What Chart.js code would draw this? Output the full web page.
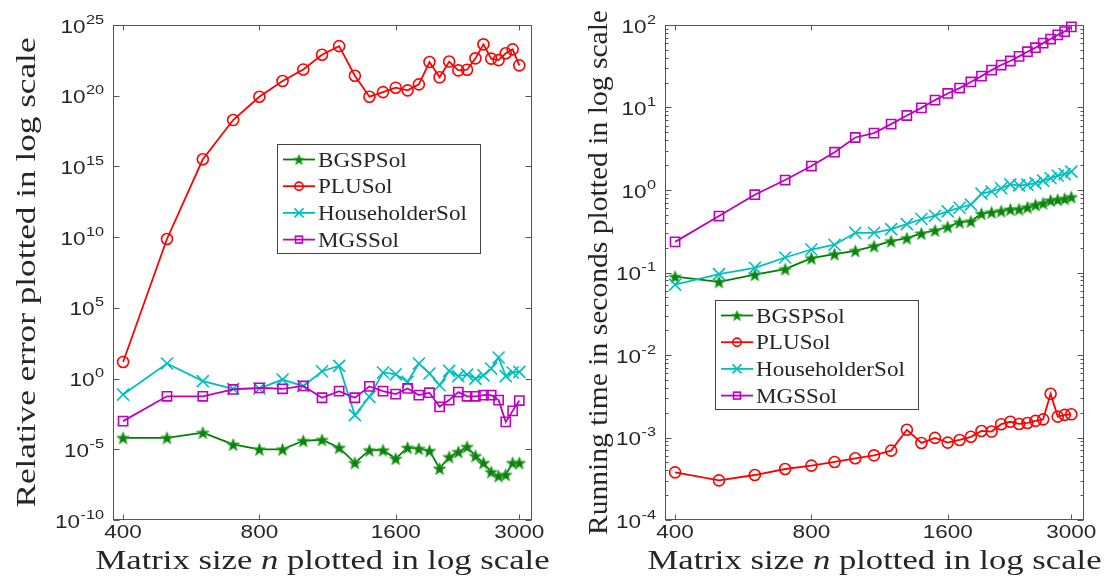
<!DOCTYPE html>
<html>
<head>
<meta charset="utf-8">
<script src="https://cdn.jsdelivr.net/npm/chart.js@4.4.0/dist/chart.umd.min.js"></script>
<style>
  html, body { margin: 0; padding: 0; background: #fff; }
  #wrap { position: relative; width: 1107px; height: 582px; }
  #wrap canvas { position: absolute; top: 0; }
  #errCanvas { left: 0; }
  #timeCanvas { left: 553px; }
</style>
</head>
<body>
<div id="wrap">
  <canvas id="errCanvas" width="553" height="582"></canvas>
  <canvas id="timeCanvas" width="554" height="582"></canvas>
</div>
<script>
// matrix sizes n
const sizes = [400, 500, 600, 700, 800, 900, 1000, 1100, 1200, 1300, 1400, 1500, 1600, 1700,
               1800, 1900, 2000, 2100, 2200, 2300, 2400, 2500, 2600, 2700, 2800, 2900, 3000];
const xTickLabels = [400, 800, 1600, 3000];
const seriesNames = ['BGSPSol', 'PLUSol', 'HouseholderSol', 'MGSSol'];

// relative errors (left panel)
const errBGSP = [6.5e-5, 6.5e-5, 1.5e-4, 2.2e-5, 1.0e-5, 1.0e-5, 4.0e-5, 4.7e-5, 1.3e-5, 1.1e-6,
                 8.7e-6, 8.7e-6, 2.2e-6, 1.3e-5, 1.1e-5, 7.8e-6, 4.4e-7, 2.9e-6, 6.6e-6, 1.5e-5,
                 3.4e-6, 1.1e-6, 2.5e-7, 1.3e-7, 1.6e-7, 1.1e-6, 1.1e-6];
const errPLU = [15, 7.4e9, 3.2e15, 1.9e18, 8.5e19, 1.1e21, 7.2e21, 7.9e22, 3.2e23, 2.6e21,
                8.5e19, 1.8e20, 3.7e20, 2.4e20, 6.3e20, 2.4e22, 2.0e21, 2.6e22, 6.2e21, 6.9e21,
                4.4e22, 4.3e23, 4.2e22, 3.3e22, 1.0e23, 1.9e23, 1.4e22];
const errHouse = [0.074, 11.7, 0.66, 0.19, 0.20, 0.85, 0.29, 3.3, 7.9, 2.6e-3,
                  0.051, 2.7, 2.0, 0.59, 11.7, 2.3, 0.34, 3.5, 1.5, 1.9,
                  1.0, 1.7, 5.1, 31, 1.5, 2.7, 3.0];
const errMGS = [9.8e-4, 0.056, 0.056, 0.17, 0.22, 0.19, 0.30, 0.044, 0.13, 0.044,
                0.28, 0.13, 0.079, 0.20, 0.068, 0.10, 0.010, 0.030, 0.11, 0.056,
                0.056, 0.068, 0.068, 0.030, 8.7e-4, 5.2e-3, 0.028];
const errExpTicks = [-10, -5, 0, 5, 10, 15, 20, 25];

// running times in seconds (right panel)
const timeBGSP = [0.089, 0.077, 0.094, 0.110, 0.149, 0.167, 0.183, 0.209, 0.240, 0.261,
                  0.298, 0.324, 0.358, 0.407, 0.417, 0.516, 0.537, 0.556, 0.582, 0.585,
                  0.617, 0.661, 0.692, 0.748, 0.764, 0.782, 0.822];
const timePLU = [3.78e-4, 3.02e-4, 3.51e-4, 4.15e-4, 4.56e-4, 5.05e-4, 5.60e-4, 6.08e-4, 6.93e-4, 1.24e-3,
                 8.59e-4, 9.89e-4, 8.67e-4, 9.33e-4, 1.02e-3, 1.20e-3, 1.18e-3, 1.45e-3, 1.55e-3, 1.46e-3,
                 1.50e-3, 1.59e-3, 1.66e-3, 3.39e-3, 1.79e-3, 1.88e-3, 1.91e-3];
const timeHouse = [0.0714, 0.0955, 0.114, 0.152, 0.190, 0.217, 0.303, 0.303, 0.336, 0.386,
                   0.445, 0.488, 0.550, 0.610, 0.664, 0.902, 0.959, 1.05, 1.17, 1.14,
                   1.16, 1.21, 1.30, 1.39, 1.49, 1.56, 1.67];
const timeMGS = [0.235, 0.483, 0.877, 1.32, 1.95, 2.87, 4.33, 4.89, 6.28, 8.0,
                 9.9, 12.3, 14.8, 17.2, 20.4, 24.0, 28.4, 32.7, 36.6, 41.7,
                 47.5, 53.1, 60.3, 67.6, 75.9, 83.2, 94.8];
const timeExpTicks = [-4, -3, -2, -1, 0, 1, 2];

const GREEN = '#008000', RED = '#ff0000', CYAN = '#00bfbf', MAGENTA = '#bf00bf';
const INK = '#262626';
const TICK_FONT = '18px "Liberation Sans"', SUP_FONT = '13px "Liberation Sans"';
const TICK_SX = 1.25;
const TITLE_FONT = '28px "Liberation Serif"', TITLE_ITALIC = 'italic 28px "Liberation Serif"';
const LEGEND_FONT = '21px "Liberation Serif"', LEGEND_SX = 1.1;

// filled pentagram used as the marker of BGSPSol
function pentagram(r) {
  const c = document.createElement('canvas');
  const s = Math.ceil(2 * r + 4);
  c.width = c.height = s;
  const g = c.getContext('2d');
  g.translate(s / 2, s / 2 + r * 0.1);
  g.beginPath();
  for (let i = 0; i < 10; i++) {
    const rad = i % 2 ? r * 0.42 : r;
    const ang = -Math.PI / 2 + i * Math.PI / 5;
    g.lineTo(rad * Math.cos(ang), rad * Math.sin(ang));
  }
  g.closePath();
  g.fillStyle = '#0b820b';
  g.fill();
  g.strokeStyle = '#3aa53a';
  g.lineWidth = 1;
  g.stroke();
  return c;
}
const starBig = pentagram(6.5), starSmall = pentagram(5.5);

function series(label, values, color, style, radius, order) {
  return {
    label,
    data: sizes.map((n, i) => ({ x: n, y: values[i] })),
    borderColor: color,
    backgroundColor: 'rgba(0,0,0,0)',
    borderWidth: 1.8,
    pointStyle: style,
    pointRadius: radius,
    pointHoverRadius: radius,
    pointBorderColor: color,
    pointBackgroundColor: 'rgba(0,0,0,0)',
    pointBorderWidth: 1.6,
    tension: 0,
    clip: false,
    order
  };
}

function txt(ctx, s, x, y, font, align, sx) {
  ctx.save();
  ctx.font = font;
  ctx.textAlign = 'left';
  ctx.textBaseline = 'alphabetic';
  const w = ctx.measureText(s).width * sx;
  const x0 = align === 'center' ? x - w / 2 : align === 'right' ? x - w : x;
  ctx.translate(x0, y);
  ctx.scale(sx, 1);
  ctx.fillText(s, 0, 0);
  ctx.restore();
  return w;
}

function marker(ctx, style, color, x, y, r) {
  ctx.save();
  ctx.strokeStyle = color;
  ctx.lineWidth = 1.6;
  if (style instanceof HTMLCanvasElement) {
    ctx.drawImage(style, x - style.width / 2, y - style.height / 2);
  } else if (style === 'circle') {
    ctx.beginPath(); ctx.arc(x, y, r, 0, 2 * Math.PI); ctx.stroke();
  } else if (style === 'rect') {
    const h = r * Math.SQRT1_2;
    ctx.strokeRect(x - h, y - h, 2 * h, 2 * h);
  } else if (style === 'crossRot') {
    const h = r * Math.SQRT1_2;
    ctx.beginPath();
    ctx.moveTo(x - h, y - h); ctx.lineTo(x + h, y + h);
    ctx.moveTo(x + h, y - h); ctx.lineTo(x - h, y + h);
    ctx.stroke();
  }
  ctx.restore();
}

// axes box, inward ticks, labels, titles and legend (MATLAB look)
const frame = {
  id: 'frame',
  afterDatasetsDraw(chart, args, o) {
    const { ctx, chartArea: a, scales: { x, y } } = chart;
    const L = Math.round(a.left) + 0.5, R = Math.round(a.right) - 0.5;
    const T = Math.round(a.top) + 0.5, B = Math.round(a.bottom) - 0.5;
    ctx.save();
    ctx.strokeStyle = '#555';
    ctx.lineWidth = 1;
    ctx.strokeRect(L, T, R - L, B - T);
    ctx.beginPath();
    xTickLabels.forEach(v => {
      const px = Math.round(x.getPixelForValue(v)) + 0.5;
      ctx.moveTo(px, B); ctx.lineTo(px, B - 5);
      ctx.moveTo(px, T); ctx.lineTo(px, T + 5);
    });
    o.yExp.forEach(e => {
      const py = Math.round(y.getPixelForValue(Math.pow(10, e))) + 0.5;
      ctx.moveTo(L, py); ctx.lineTo(L + 6, py);
      ctx.moveTo(R, py); ctx.lineTo(R - 6, py);
      if (o.minor && e < o.yExp[o.yExp.length - 1]) {
        for (let m = 2; m <= 9; m++) {
          const pm = Math.round(y.getPixelForValue(m * Math.pow(10, e))) + 0.5;
          ctx.moveTo(L, pm); ctx.lineTo(L + 3, pm);
          ctx.moveTo(R, pm); ctx.lineTo(R - 3, pm);
        }
      }
    });
    ctx.stroke();

    ctx.fillStyle = INK;
    xTickLabels.forEach(v => {
      txt(ctx, String(v), x.getPixelForValue(v), 538, TICK_FONT, 'center', TICK_SX);
    });
    o.yExp.forEach(e => {
      const py = y.getPixelForValue(Math.pow(10, e));
      const right = a.left - 9;
      ctx.font = SUP_FONT;
      const ws = ctx.measureText(String(e)).width * TICK_SX;
      txt(ctx, String(e), right, py - 1.5, SUP_FONT, 'right', TICK_SX);
      txt(ctx, '10', right - ws - 0.5, py + 7.5, TICK_FONT, 'right', TICK_SX);
    });

    // x title with italic n, fitted to the length it has in the figure
    const parts = [['Matrix size ', TITLE_FONT], ['n', TITLE_ITALIC], [' plotted in log scale', TITLE_FONT]];
    let raw = 0;
    parts.forEach(p => { ctx.font = p[1]; raw += ctx.measureText(p[0]).width; });
    const sx = o.xTitleLen / raw;
    let cx = (a.left + a.right) / 2 - o.xTitleLen / 2;
    parts.forEach(p => { cx += txt(ctx, p[0], cx, 569, p[1], 'left', sx); });

    // y title
    ctx.font = TITLE_FONT;
    const sy = o.yTitleLen / ctx.measureText(o.yTitle).width;
    ctx.save();
    ctx.translate(o.yTitleX, (a.top + a.bottom) / 2);
    ctx.rotate(-Math.PI / 2);
    txt(ctx, o.yTitle, 0, 0, TITLE_FONT, 'center', sy);
    ctx.restore();

    // legend
    const lx = o.legend.x, ly = o.legend.y, lw = 203, lh = 109;
    ctx.fillStyle = '#fff';
    ctx.fillRect(lx, ly, lw, lh);
    ctx.strokeStyle = '#444';
    ctx.lineWidth = 1;
    ctx.strokeRect(lx + 0.5, ly + 0.5, lw, lh);
    chart.data.datasets.forEach((ds, i) => {
      const cy = ly + 15.5 + i * 26.7;
      ctx.strokeStyle = ds.borderColor;
      ctx.lineWidth = 1.8;
      ctx.beginPath(); ctx.moveTo(lx + 6, cy); ctx.lineTo(lx + 38, cy); ctx.stroke();
      const st = ds.pointStyle === starBig ? starSmall : ds.pointStyle;
      marker(ctx, st, ds.borderColor, lx + 22, cy, ds.pointRadius * 0.75);
      ctx.fillStyle = INK;
      txt(ctx, ds.label, lx + 41, cy + 7, LEGEND_FONT, 'left', LEGEND_SX);
    });
    ctx.restore();
  }
};

function logAxis(min, max, size) {
  return {
    type: 'logarithmic', min, max,
    ticks: { display: false },
    grid: { display: false },
    border: { display: false },
    afterFit: s => { if (s.isHorizontal()) s.height = size; else s.width = size; }
  };
}

function makeChart(id, values, yMin, yMax, yAxisWidth, padRight, frameOpts) {
  const ds = [
    series(seriesNames[0], values[0], GREEN, starBig, 6, 3),
    series(seriesNames[1], values[1], RED, 'circle', 5.5, 2),
    series(seriesNames[2], values[2], CYAN, 'crossRot', 8.5, 1),
    series(seriesNames[3], values[3], MAGENTA, 'rect', 6.5, 0)
  ];
  return new Chart(document.getElementById(id), {
    type: 'line',
    data: { datasets: ds },
    options: {
      responsive: false,
      animation: false,
      events: [],
      layout: { padding: { left: 0, right: padRight, top: 25, bottom: 0 } },
      scales: { x: logAxis(380, 3200, 62), y: logAxis(yMin, yMax, yAxisWidth) },
      plugins: { legend: { display: false }, tooltip: { enabled: false }, frame: frameOpts }
    },
    plugins: [frame]
  });
}

makeChart('errCanvas', [errBGSP, errPLU, errHouse, errMGS], 1e-10, 1e25, 113, 21, {
  yExp: errExpTicks, minor: false, xTitleLen: 454,
  yTitle: 'Relative error plotted in log scale', yTitleX: 35, yTitleLen: 470,
  legend: { x: 277, y: 144 }
});
makeChart('timeCanvas', [timeBGSP, timePLU, timeHouse, timeMGS], 1e-4, 1e2, 112, 23, {
  yExp: timeExpTicks, minor: true, xTitleLen: 454,
  yTitle: 'Running time in seconds plotted in log scale', yTitleX: 54, yTitleLen: 525,
  legend: { x: 162, y: 300 }
});
</script>
</body>
</html>
